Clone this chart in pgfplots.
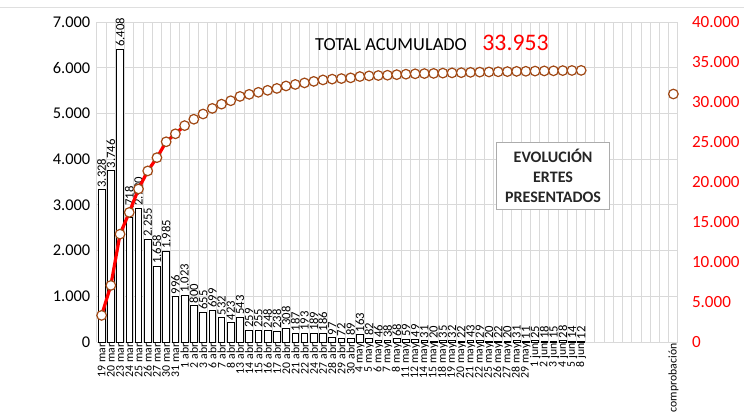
\documentclass[border=0pt]{standalone}
\usepackage{fontspec}
\setmainfont{Carlito}
\usepackage{pgfplots}
\usepackage{pgfplotstable}
\pgfplotsset{compat=1.18}
\definecolor{mk}{RGB}{160,72,20}
\definecolor{gridc}{RGB}{217,217,217}
\pgfplotstableread{
idx val cum
0 3328 3328
1 3746 7074
2 6408 13482
3 2718 16200
4 2930 19130
5 2255 21385
6 1658 23043
7 1985 25028
8 996 26024
9 1023 27047
10 800 27847
11 655 28502
12 699 29201
13 532 29733
14 423 30156
15 543 30699
16 259 30958
17 255 31213
18 248 31461
19 238 31699
20 308 32007
21 187 32194
22 193 32387
23 189 32576
24 186 32762
25 97 32859
26 72 32931
27 89 33020
28 163 33183
29 82 33265
30 46 33311
31 38 33349
32 68 33417
33 59 33476
34 49 33525
35 31 33556
36 20 33576
37 35 33611
38 32 33643
39 22 33665
40 43 33708
41 29 33737
42 20 33757
43 22 33779
44 20 33799
45 31 33830
46 11 33841
47 25 33866
48 18 33884
49 15 33899
50 28 33927
51 14 33941
52 12 33953
}\datatab
\begin{document}
\begin{tikzpicture}
\useasboundingbox (-72.75pt,-52.5pt) rectangle (485.25pt,256.5pt);
\draw[gray!25, line width=0.75pt] (-72.75pt,251.25pt) -- (485.25pt,251.25pt);
\begin{axis}[
  width=435.75pt, height=240pt, scale only axis,
  xmin=-0.5, xmax=62.5, ymin=0, ymax=7000,
  scaled ticks=false,
  ytick={0,1000,...,7000},
  xtick={0,...,62},
  xticklabels={19 mar,20 mar,23 mar,24 mar,25 mar,26 mar,27 mar,30 mar,31 mar,1 abr,2 abr,3 abr,6 abr,7 abr,8 abr,13 abr,14 abr,15 abr,16 abr,17 abr,20 abr,21 abr,22 abr,24 abr,27 abr,28 abr,29 abr,30 abr,4 may,5 may,6 may,7 may,8 may,11 may,12 may,14 may,15 may,18 may,19 may,20 may,21 may,22 may,25 may,26 may,27 may,28 may,29 may,1 jun,2 jun,3 jun,4 jun,5 jun,8 jun,{},{},{},{},{},{},{},{},{},comprobación},
  x tick label style={rotate=90, anchor=east, font=\fontsize{8.8}{9}\selectfont, inner sep=1pt},
  y tick label style={font=\fontsize{12.3}{14}\selectfont, xshift=-1.5pt},
  tick style={draw=none},
  minor xtick={-0.5,0.5,...,62.5},
  xminorgrids, ymajorgrids,
  minor grid style={gridc, line width=0.75pt},
  major grid style={gridc, line width=0.75pt},
  axis line style={draw=none},
  /pgf/number format/.cd, assume math mode=true, 1000 sep={.}, fixed,
]
\addplot[ybar, bar width=0.72, draw=black, line width=0.6pt, fill=white,
  nodes near coords,
  every node near coord/.append style={rotate=90, anchor=west, font=\fontsize{9.5}{10}\selectfont, inner sep=1.5pt, text=black}]
  table[x=idx, y=val]{\datatab};
\node[anchor=base west, inner sep=0, font=\fontsize{13.8}{15}\selectfont] at (rel axis cs:0.375,0.9125) {TOTAL ACUMULADO};
\node[anchor=base west, inner sep=0, text=red, font=\fontsize{17.8}{19}\selectfont] at (rel axis cs:0.663,0.9125) {33.953};
\node[draw=gray!65, line width=0.75pt, fill=white, minimum width=85pt, minimum height=50pt, align=center, text=black!85, font=\bfseries\fontsize{12}{15}\selectfont] at (rel axis cs:0.785,0.519) {EVOLUCIÓN\\ERTES\\PRESENTADOS};
\end{axis}
\begin{axis}[
  width=435.75pt, height=240pt, scale only axis,
  xmin=-0.5, xmax=62.5, ymin=0, ymax=40000,
  scaled ticks=false,
  axis y line*=right, hide x axis,
  axis line style={draw=none},
  ytick={0,5000,...,40000},
  tick style={draw=none},
  y tick label style={font=\fontsize{12.8}{14}\selectfont, text=red, xshift=7pt},
  /pgf/number format/.cd, assume math mode=true, 1000 sep={.}, fixed,
]
\addplot[red, line width=2.4pt, no marks, restrict x to domain=0:9] table[x=idx, y=cum]{\datatab};
\addplot[only marks, mark=*, mark size=3.6pt, mark options={draw=mk, fill=white, line width=0.9pt}] table[x=idx, y=cum]{\datatab};
\addplot[only marks, mark=*, mark size=3.6pt, mark options={draw=mk, fill=white, line width=0.9pt}] coordinates {(62,31000)};
\end{axis}
\end{tikzpicture}
\end{document}
